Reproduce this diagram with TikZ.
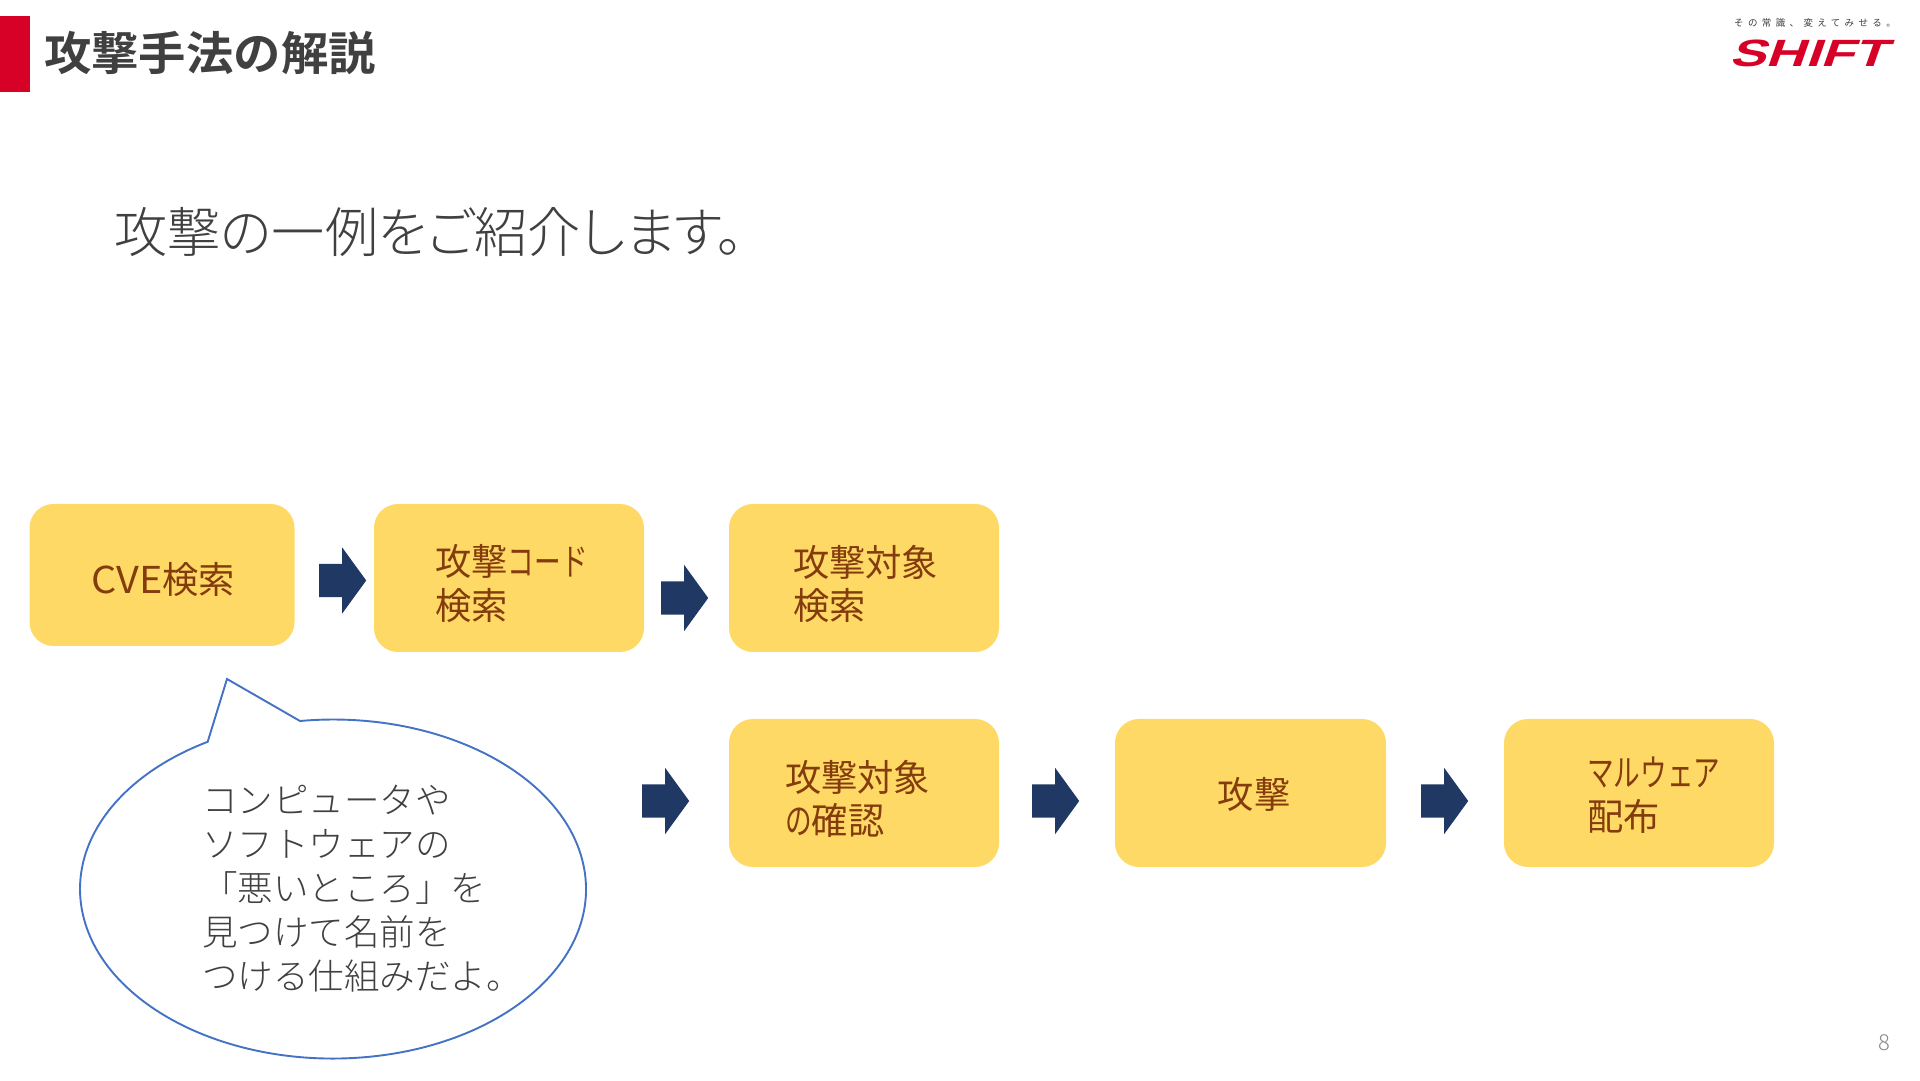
\documentclass[tikz,border=0pt]{standalone}
\usepackage{fontspec}
\usetikzlibrary{shapes.arrows}
\setmainfont{Noto Sans CJK JP}
\newfontfamily\jpreg{Noto Sans CJK JP}[FakeStretch=0.98]
\newfontfamily\jpnarrow{Noto Sans CJK JP}[FakeStretch=0.72]
\newfontfamily\jpwide{Noto Sans CJK JP}[FakeStretch=1.07]
\newfontfamily\jpbold{Noto Sans CJK JP Bold}[FakeStretch=1.03]
\newfontfamily\jplight{Noto Sans CJK JP Light}
\newfontfamily\jpsub{Noto Sans CJK JP Light}[RawFeature=+palt,FakeStretch=0.985]
\newfontfamily\jptag{Noto Sans CJK JP}[LetterSpace=46]
\newfontfamily\logofont{Liberation Sans Bold}[FakeStretch=1.43,FakeSlant=0.35]
\definecolor{brandred}{HTML}{D70027}
\definecolor{boxfill}{HTML}{FFD966}
\definecolor{boxtext}{HTML}{843C0C}
\definecolor{arrowblue}{HTML}{1F3864}
\definecolor{calloutline}{HTML}{4472C4}
\definecolor{bodygray}{HTML}{404040}
\definecolor{pagegray}{HTML}{898989}
\tikzset{
  x=1pt,y=1pt,
  stepbox/.style={fill=boxfill,draw=none,rounded corners=24pt,inner sep=0pt,anchor=center},
  boxlabel/.style={text=boxtext,font=\jpreg\fontsize{37}{43.5}\selectfont,align=left,inner sep=0pt},
  blockarrow/.style={single arrow,fill=arrowblue,draw=none,inner xsep=0pt,inner ysep=16.5pt,anchor=west,
    minimum height=47pt,single arrow tip angle=108,
    single arrow head extend=16.5pt,shape border rotate=0},
  calloutlabel/.style={text=bodygray,font=\jplight\fontsize{35.5}{44}\selectfont,align=left,inner sep=0pt},
}
\begin{document}
\begin{tikzpicture}
\useasboundingbox (0,0) rectangle (1920,1080);
\fill[white] (0,0) rectangle (1920,1080);
% header
\fill[brandred] (0,988) rectangle (30,1064);
\node[anchor=west,inner sep=0pt,text=bodygray,font=\jpbold\fontsize{46}{50}\selectfont] (title) at (44,1027) {攻撃手法の解説};
\node[anchor=west,inner sep=0pt,text=bodygray,font=\jpsub\fontsize{54}{58}\selectfont] (subtitle) at (114,848) {攻撃の一例をご紹介します。};
% logo
\node[anchor=center,inner sep=0pt,text=bodygray,font=\jptag\fontsize{9.5}{10}\selectfont] (tagline) at (1815,1057) {その常識、変えてみせる。};
\node[anchor=center,inner sep=0pt,text=brandred,font=\logofont\fontsize{38}{40}\selectfont] (logo) at (1808,1026.5) {SHIFT};
% boxes
\node[stepbox,minimum width=265pt,minimum height=142pt] (b1) at (162,505) {};
\node[stepbox,minimum width=270pt,minimum height=148pt] (b2) at (509,502) {};
\node[stepbox,minimum width=270pt,minimum height=148pt] (b3) at (864,502) {};
\node[stepbox,minimum width=270pt,minimum height=148pt] (b4) at (864,287) {};
\node[stepbox,minimum width=271pt,minimum height=148pt] (b5) at (1250.5,287) {};
\node[stepbox,minimum width=270pt,minimum height=148pt] (b6) at (1639,287) {};
% box texts
\node[boxlabel,anchor=center] (t1) at (163,500) {{\jpwide CVE}検索};
\node[boxlabel,anchor=west] (t2) at (435,496.5) {攻撃{\jpnarrow コード}\\検索};
\node[boxlabel,anchor=west] (t3) at (793,496) {攻撃対象\\検索};
\node[boxlabel,anchor=west] (t4) at (785,281) {攻撃対象\\{\jpnarrow の}確認};
\node[boxlabel,anchor=center] (t5) at (1254,286) {攻撃};
\node[boxlabel,anchor=west] (t6) at (1587,285) {{\jpnarrow マルウェア}\\配布};
% arrows
\node[blockarrow] (a1) at (319,499.5) {};
\node[blockarrow] (a2) at (661,482) {};
\node[blockarrow] (a3) at (642,279) {};
\node[blockarrow] (a4) at (1032,279) {};
\node[blockarrow] (a5) at (1421,279) {};
% callout
\draw[calloutline,line width=1.9pt,fill=white,line join=miter]
  (300,359) arc[start angle=97.5,end angle=-240.3,x radius=253,y radius=169.5]
  -- (227,401) -- cycle;
\node[calloutlabel,anchor=north west] (callout) at (202,295.5) {コンピュータや\\ソフトウェアの\\「悪いところ」を\\見つけて名前を\\つける仕組みだよ。};
% page number
\node[inner sep=0pt,text=pagegray,font=\jplight\fontsize{22}{24}\selectfont] (page) at (1884,37) {8};
\end{tikzpicture}
\end{document}
